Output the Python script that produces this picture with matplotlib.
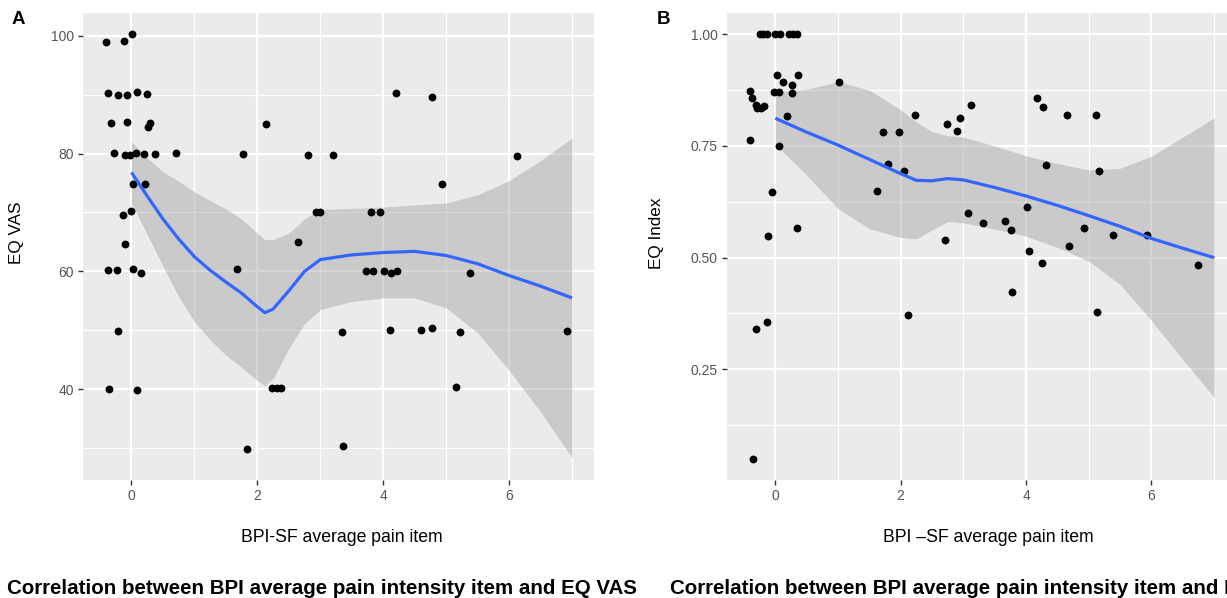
import numpy as np
import matplotlib
matplotlib.use("Agg")
import matplotlib.pyplot as plt
from matplotlib.ticker import MultipleLocator

plt.rcParams['font.family'] = ['Liberation Sans', 'DejaVu Sans']

# ---------------- Panel A data (jittered points as read) ----------------
a_x = [-0.41, -0.12, 0.01,
       -0.37, -0.21, -0.07, 0.09, 0.24,
       -0.32, -0.07, 0.26, 0.29,
       -0.28, -0.10, -0.03, 0.07, 0.20, 0.37, 0.70,
       0.03, 0.21, -0.14, -0.01, -0.11,
       -0.38, -0.23, 0.02, 0.15, -0.22, -0.36, 0.09,
       1.67, 1.78, 1.84, 2.13, 2.24, 2.31, 2.37,
       2.65, 2.80, 2.94, 2.99, 3.21, 3.35, 3.36,
       3.73, 3.84, 3.81, 3.95, 4.02, 4.13, 4.22, 4.21, 4.11,
       4.60, 4.77, 4.78, 4.93, 5.16, 5.22, 5.38, 6.12, 6.92]
a_y = [98.9, 99.1, 100.3,
       90.2, 90.0, 89.9, 90.4, 90.1,
       85.2, 85.3, 84.5, 85.1,
       80.1, 79.7, 79.8, 80.1, 79.9, 80.0, 80.1,
       74.9, 74.8, 69.6, 70.2, 64.7,
       60.3, 60.3, 60.4, 59.8, 49.9, 40.0, 39.8,
       60.4, 80.0, 29.9, 85.0, 40.2, 40.2, 40.2,
       65.0, 79.7, 70.1, 70.1, 79.7, 49.7, 30.3,
       60.0, 60.1, 70.1, 70.1, 60.0, 59.8, 60.0, 90.2, 50.0,
       50.1, 50.4, 89.6, 74.9, 40.3, 49.8, 59.7, 79.6, 49.9]

# smooth curve (loess), with half width of the band
a_sx = [0, 0.25, 0.5, 0.75, 1.0, 1.25, 1.5, 1.75, 2.0, 2.12, 2.25, 2.5,
        2.75, 3.0, 3.5, 4.0, 4.5, 5.0, 5.5, 6.0, 6.5, 7.0]
a_fit = [76.8, 72.8, 68.9, 65.5, 62.5, 60.2, 58.2, 56.3, 54.0, 53.0, 53.6, 56.7,
         60.0, 62.0, 62.8, 63.2, 63.4, 62.7, 61.3, 59.3, 57.5, 55.5]
a_hw = [5.2, 6.5, 8.0, 9.8, 11.0, 11.8, 12.4, 12.6, 12.5, 12.4, 11.8, 9.8,
        8.9, 8.5, 7.9, 7.7, 7.9, 8.9, 11.7, 16.1, 21.3, 27.1]

# ---------------- Panel B data ----------------
b_x = [-0.24, -0.19, -0.13, 0.00, 0.07, 0.22, 0.28, 0.35,
       0.03, 0.36, 0.12, 0.26, -0.02, 0.06, 0.27,
       -0.40, -0.37, -0.31, -0.29, -0.23, -0.18,
       0.18, -0.40, 0.06, -0.06, -0.12, 0.34,
       -0.31, -0.13, -0.36, 1.02,
       1.62, 1.72, 1.98, 1.79, 2.05, 2.23, 2.12,
       2.70, 2.74, 2.90, 2.94, 3.12, 3.07, 3.32,
       3.67, 3.76, 3.77, 4.02, 4.05, 4.25, 4.18,
       4.27, 4.32, 4.66, 4.68, 4.92, 5.11, 5.16,
       5.13, 5.39, 5.93, 6.75]
b_y = [1.0, 1.0, 1.0, 1.0, 1.0, 1.0, 1.0, 1.0,
       0.909, 0.910, 0.893, 0.887, 0.870, 0.870, 0.869,
       0.872, 0.857, 0.842, 0.834, 0.836, 0.840,
       0.817, 0.763, 0.750, 0.648, 0.549, 0.566,
       0.341, 0.355, 0.049, 0.893,
       0.649, 0.781, 0.781, 0.710, 0.693, 0.819, 0.371,
       0.540, 0.799, 0.784, 0.813, 0.841, 0.601, 0.577,
       0.581, 0.563, 0.424, 0.613, 0.514, 0.487, 0.857,
       0.838, 0.707, 0.819, 0.527, 0.566, 0.819, 0.693,
       0.378, 0.551, 0.550, 0.484]

b_sx = [0, 0.5, 1.0, 1.5, 2.0, 2.25, 2.5, 2.75, 3.0, 3.5, 4.0, 4.5, 5.0,
        5.5, 6.0, 6.5, 7.0]
b_fit = [0.812, 0.781, 0.752, 0.720, 0.688, 0.673, 0.672, 0.677, 0.674, 0.657,
         0.638, 0.617, 0.594, 0.570, 0.543, 0.521, 0.500]
b_hw = [0.058, 0.096, 0.142, 0.155, 0.143, 0.131, 0.110, 0.096, 0.096, 0.093,
        0.090, 0.094, 0.102, 0.130, 0.184, 0.249, 0.313]

x_ticks = [0, 2, 4, 6]
a_ticks = [40, 60, 80, 100]
b_ticks = [0.25, 0.50, 0.75, 1.00]
b_ticklabels = ["0.25", "0.50", "0.75", "1.00"]

W, H = 1227, 598
fig = plt.figure(figsize=(W / 100, H / 100), dpi=100)

def px_box(l, t, r, b):
    return [l / W, 1 - b / H, (r - l) / W, (b - t) / H]

BG = '#EBEBEB'
TXT = '#555555'

def style(ax):
    ax.set_facecolor(BG)
    for s in ax.spines.values():
        s.set_visible(False)
    ax.grid(which='major', color='white', linewidth=1.6, zorder=0)
    ax.grid(which='minor', color='white', linewidth=0.8, zorder=0)
    ax.set_axisbelow(True)
    ax.tick_params(which='major', direction='out', length=3.5, width=1.0,
                   color='#333333', labelcolor=TXT, labelsize=10, pad=3)
    ax.tick_params(which='minor', length=0)

def panel(ax, xs, ys, sx, fit, hw):
    sx = np.asarray(sx); fit = np.asarray(fit); hw = np.asarray(hw)
    ax.fill_between(sx, fit - hw, fit + hw, color='#999999', alpha=0.4,
                    linewidth=0, zorder=2)
    ax.scatter(xs, ys, s=32, color='black', linewidths=0, zorder=3)
    ax.plot(sx, fit, color='#3366FF', linewidth=2.3, zorder=4,
            solid_capstyle='butt')

axA = fig.add_axes(px_box(83, 13, 594, 480))
style(axA)
panel(axA, a_x, a_y, a_sx, a_fit, a_hw)
axA.set_xlim(-0.77, 7.35)
axA.set_ylim(24.6, 103.85)
axA.set_xticks(x_ticks)
axA.xaxis.set_minor_locator(MultipleLocator(1))
axA.set_yticks(a_ticks)
axA.yaxis.set_minor_locator(MultipleLocator(10))

axB = fig.add_axes(px_box(727, 13, 1238, 480))
style(axB)
panel(axB, b_x, b_y, b_sx, b_fit, b_hw)
axB.set_xlim(-0.77, 7.38)
axB.set_ylim(0.0022, 1.0477)
axB.set_xticks(x_ticks)
axB.xaxis.set_minor_locator(MultipleLocator(1))
axB.set_yticks(b_ticks)
axB.set_yticklabels(b_ticklabels)
axB.yaxis.set_minor_locator(MultipleLocator(0.125))

def ftext(x, y, s, **kw):
    fig.text(x / W, 1 - y / H, s, **kw)

ftext(18, 20, "A", fontsize=13.5, fontweight='bold', ha='center', va='center')
ftext(663, 19, "B", fontsize=13.5, fontweight='bold', ha='center', va='center')
ftext(17, 233, "EQ VAS", fontsize=12.3, rotation=90, ha='center', va='center')
ftext(657, 233, "EQ Index", fontsize=12.3, rotation=90, ha='center', va='center')
ftext(342, 537, "BPI-SF average pain item", fontsize=12.7, ha='center', va='center')
ftext(988, 537, "BPI \u2013SF average pain item", fontsize=12.7, ha='center', va='center')
ftext(7, 594, "Correlation between BPI average pain intensity item and EQ VAS",
      fontsize=14.8, fontweight='bold', ha='left', va='baseline')
ftext(670, 594, "Correlation between BPI average pain intensity item and EQ Index",
      fontsize=14.8, fontweight='bold', ha='left', va='baseline')

fig.savefig("out.png", dpi=100)
